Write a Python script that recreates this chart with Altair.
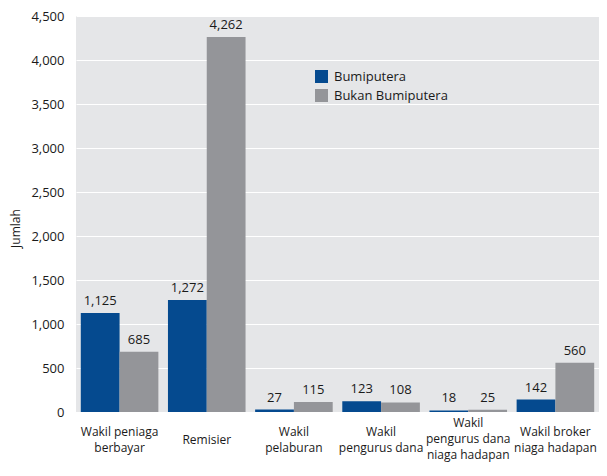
import altair as alt
import pandas as pd

categories = ["Wakil peniaga|berbayar", "Remisier", "Wakil|pelaburan", "Wakil|pengurus dana",
              "Wakil|pengurus dana|niaga hadapan", "Wakil broker|niaga hadapan"]
series = ["Bumiputera", "Bukan Bumiputera"]
bumiputera = [1125, 1272, 27, 123, 18, 142]
bukan_bumiputera = [685, 4262, 115, 108, 25, 560]
y_ticks = [0, 500, 1000, 1500, 2000, 2500, 3000, 3500, 4000, 4500]
colors = ["#054a8f", "#949599"]

rows = []
for c, a, b in zip(categories, bumiputera, bukan_bumiputera):
    rows.append({"cat": c, "series": series[0], "value": a})
    rows.append({"cat": c, "series": series[1], "value": b})
df = pd.DataFrame(rows)

FONT = "Open Sans"

label_pad = {
    "condition": [
        {"test": "length(split(datum.value, '|')) == 1", "value": 27},
        {"test": "length(split(datum.value, '|')) == 2", "value": 19},
    ],
    "value": 10,
}

x = alt.X("cat:N", sort=categories, title=None,
          scale=alt.Scale(paddingInner=0.11, paddingOuter=0.055),
          axis=alt.Axis(labelExpr="split(datum.label, '|')", labelAngle=0,
                        labelBaseline="middle", labelPadding=label_pad, labelLineHeight=16,
                        labelFontSize=12, labelFont=FONT, labelColor="#1a1a1a",
                        ticks=False, domain=False, labelLimit=200))
xo = alt.XOffset("series:N", sort=series, scale=alt.Scale(paddingInner=0, paddingOuter=0))
y = alt.Y("value:Q", title="Jumlah",
          scale=alt.Scale(domain=[0, 4500], nice=False),
          axis=alt.Axis(values=y_ticks, format=",d", labelFontSize=13, labelFont=FONT,
                        labelColor="#1a1a1a", labelPadding=12, ticks=False, domain=False,
                        gridColor="#ffffff", gridWidth=1, titleFont=FONT,
                        titleFontSize=12, titleFontWeight="normal", titleColor="#1a1a1a",
                        titlePadding=8, titleY=212))

color = alt.Color("series:N", sort=series,
                  scale=alt.Scale(domain=series, range=colors),
                  legend=alt.Legend(title=None, orient="none", legendX=239, legendY=54,
                                    symbolType="square", symbolSize=169,
                                    symbolStrokeWidth=0, labelFont=FONT,
                                    labelFontSize=13, labelColor="#1a1a1a",
                                    rowPadding=5, padding=0, labelOffset=6))

bars = alt.Chart(df).mark_bar().encode(x=x, xOffset=xo, y=y, color=color)
labels = alt.Chart(df).mark_text(baseline="bottom", dy=-5, font=FONT, fontSize=13,
                                 color="#1a1a1a").encode(
    x=x, xOffset=xo, y=y, text=alt.Text("value:Q", format=",d"))

chart = (bars + labels).properties(
    width=523, height=396,
    autosize=alt.AutoSizeParams(type="none"),
    padding={"left": 68, "top": 8, "right": 0, "bottom": 52}
).configure(background="white").configure_view(fill="#e5e6e8", stroke=None)

chart.save("out.html", embed_options={"renderer": "svg", "actions": False})
